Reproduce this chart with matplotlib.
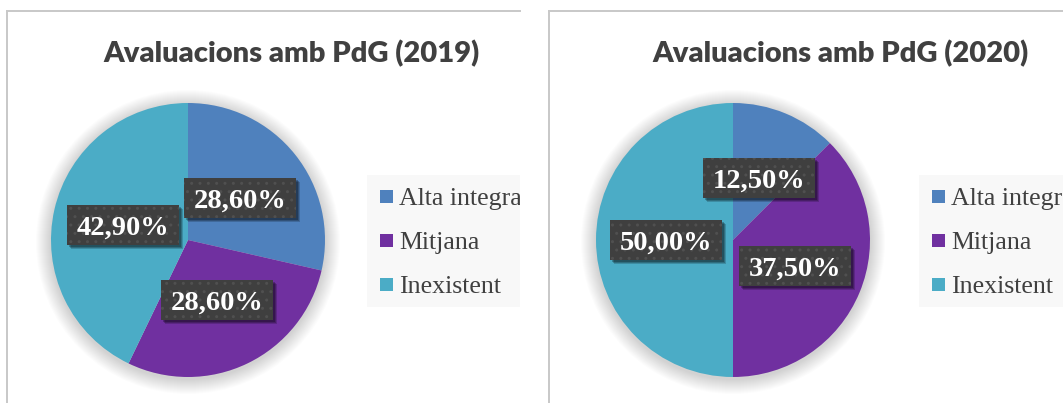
import matplotlib.pyplot as plt
import numpy as np
from matplotlib.patches import Rectangle, Circle

# data
categories = ['Alta integració', 'Mitjana', 'Inexistent']
titles = ['Avaluacions amb PdG (2019)', 'Avaluacions amb PdG (2020)']
values_2019 = [28.6, 28.6, 42.9]
values_2020 = [12.5, 37.5, 50.0]
colors = ['#4F81BD', '#7030A0', '#4BACC6']

W, H = 1063, 403
TOP = 11


def Y(y):
    # image row -> data y (data y grows upwards)
    return H - y


def draw_panel(fig, left, right, values, title, cx, tx, lx):
    ax = fig.add_axes([left / W, 0, (right - left) / W, (H - TOP) / H])
    ax.set_facecolor('white')

    # soft shadow behind the pie
    for k in range(1, 16):
        ax.add_patch(Circle((cx, Y(242)), 137 + k, color='#000000', alpha=0.012, lw=0, zorder=0))

    r = 137
    wedges, _ = ax.pie(values, colors=colors, startangle=90, counterclock=False,
                       center=(cx, Y(240)), radius=r, frame=True,
                       wedgeprops=dict(linewidth=0, zorder=1))

    # data labels
    for w, v in zip(wedges, values):
        th = np.deg2rad((w.theta1 + w.theta2) / 2)
        px = cx + 0.49 * r * np.cos(th)
        py = Y(240) + 0.49 * r * np.sin(th)
        bw, bh = 112, 40
        for off, a in [(4, 0.18), (3, 0.22), (2, 0.25)]:
            ax.add_patch(Rectangle((px - bw / 2 + off, py - bh / 2 - off), bw, bh,
                                   facecolor='black', alpha=a, lw=0, zorder=3))
        ax.add_patch(Rectangle((px - bw / 2, py - bh / 2), bw, bh, facecolor='#3F3F3F',
                               edgecolor='#505050', hatch='..', lw=0, zorder=4))
        txt = f"{v:.2f}%".replace('.', ',')
        ax.text(px, py - 9.5, txt, ha='center', va='baseline', fontsize=20.5,
                fontweight='bold', family='Liberation Serif', color='white', zorder=5)

    # title
    ax.text(tx, Y(62), title, ha='center', va='baseline', fontsize=21, fontweight='heavy',
            family='Lato', color='#404040', clip_on=True, zorder=5)

    # legend (clipped by the panel edge, as in the original)
    ax.add_patch(Rectangle((lx, Y(307)), 600, 132, facecolor='#F8F8F8', lw=0, zorder=1))
    for i, (cat, col) in enumerate(zip(categories, colors)):
        yc = 196.5 + i * 44
        ax.add_patch(Rectangle((lx + 13, Y(yc) - 6.5), 13, 13, facecolor=col, lw=0, zorder=2))
        ax.text(lx + 32, Y(yc + 8.5), cat, ha='left', va='baseline', fontsize=18.6,
                family='Liberation Serif', color='#404040', clip_on=True, zorder=2)

    ax.set_xlim(left, right)
    ax.set_ylim(0, H - TOP)
    ax.set_aspect('auto')
    ax.set_xticks([])
    ax.set_yticks([])
    for s in ['right', 'bottom']:
        ax.spines[s].set_visible(False)
    for s in ['left', 'top']:
        ax.spines[s].set_color('#C8C8C8')
        ax.spines[s].set_linewidth(1.4)
    return ax


fig = plt.figure(figsize=(W / 100, H / 100), dpi=100)
fig.patch.set_facecolor('white')

draw_panel(fig, 7, 520, values_2019, titles[0], cx=188, tx=291.5, lx=367)
draw_panel(fig, 549, W, values_2020, titles[1], cx=733, tx=840, lx=919)

fig.savefig('out.png', dpi=100, facecolor='white')
